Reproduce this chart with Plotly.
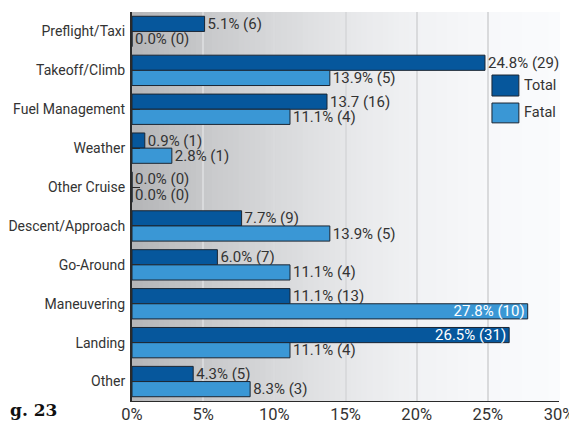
import plotly.graph_objects as go

# accident phases, top to bottom
phases = [
    "Preflight/Taxi", "Takeoff/Climb", "Fuel Management", "Weather", "Other Cruise",
    "Descent/Approach", "Go-Around", "Maneuvering", "Landing", "Other",
]
total_pct = [5.1, 24.8, 13.7, 0.9, 0.0, 7.7, 6.0, 11.1, 26.5, 4.3]
total_cnt = [6, 29, 16, 1, 0, 9, 7, 13, 31, 5]
fatal_pct = [0.0, 13.9, 11.1, 2.8, 0.0, 13.9, 11.1, 27.8, 11.1, 8.3]
fatal_cnt = [0, 5, 4, 1, 0, 5, 4, 10, 4, 3]
x_ticks = [0, 5, 10, 15, 20, 25, 30]

TOTAL_COL = "#06579c"
FATAL_COL = "#3a97d5"
EDGE = "#1b2633"
TXT = "#333333"
FONT = "Roboto"


def labels(pct, cnt):
    out = []
    for p, c in zip(pct, cnt):
        out.append(f"{p:.1f}% ({c})")
    return out


total_text = labels(total_pct, total_cnt)
total_text[2] = "13.7 (16)"  # the source label has no % here
fatal_text = labels(fatal_pct, fatal_cnt)

# long bars get their label inside
total_pos = ["inside" if p > 26 else "outside" for p in total_pct]
fatal_pos = ["inside" if p > 26 else "outside" for p in fatal_pct]

fig = go.Figure()

for name, vals, txt, pos, col in [
    ("Total", total_pct, total_text, total_pos, TOTAL_COL),
    ("Fatal", fatal_pct, fatal_text, fatal_pos, FATAL_COL),
]:
    fig.add_trace(
        go.Bar(
            y=phases,
            x=vals,
            orientation="h",
            name=name,
            text=txt,
            textposition=pos,
            insidetextanchor="end",
            outsidetextfont=dict(family=FONT, size=15, color=TXT),
            insidetextfont=dict(family=FONT, size=15, color="white"),
            constraintext="none",
            cliponaxis=False,
            marker=dict(color=col, line=dict(color=EDGE, width=1)),
            showlegend=False,
            hoverinfo="skip",
        )
    )

# grey-to-white background gradient drawn as thin strips
stops = [(0.0, 180), (1 / 6, 199), (2 / 6, 215), (0.5, 230), (4 / 6, 241), (5 / 6, 247), (1.0, 250)]


def shade(t):
    for (t0, v0), (t1, v1) in zip(stops[:-1], stops[1:]):
        if t0 <= t <= t1:
            return v0 + (v1 - v0) * (t - t0) / (t1 - t0)
    return stops[-1][1]


n_strips = 80
for i in range(n_strips):
    t = (i + 0.5) / n_strips
    v = int(round(shade(t)))
    fig.add_shape(
        type="rect",
        xref="x domain", yref="y domain",
        x0=i / n_strips, x1=(i + 1) / n_strips + 0.002, y0=0, y1=1,
        fillcolor=f"rgb({v},{min(v + 1, 255)},{min(v + 3, 255)})",
        line=dict(width=0),
        layer="below",
    )

# hand-drawn legend with big swatches
legend_items = [("Total", TOTAL_COL, 0.838, 0.784), ("Fatal", FATAL_COL, 0.766, 0.715)]
for name, col, ytop, ybot in legend_items:
    fig.add_shape(
        type="rect", xref="paper", yref="paper",
        x0=0.843, x1=0.906, y0=ybot, y1=ytop,
        fillcolor=col, line=dict(color=EDGE, width=1),
    )
    fig.add_annotation(
        xref="paper", yref="paper", x=0.914, y=(ytop + ybot) / 2,
        text=name, showarrow=False, xanchor="left", yanchor="middle",
        font=dict(family=FONT, size=14.5, color=TXT),
    )

# cropped figure caption at bottom-left
fig.add_annotation(
    xref="paper", yref="paper", x=-124 / 427, y=-0.022,
    text="<b>g. 23</b>", showarrow=False, xanchor="left", yanchor="middle",
    font=dict(family="DejaVu Serif", size=17, color="#111111"),
)

# page has an 8px body margin, so the figure is shrunk by that much
fig.update_layout(
    width=569,
    height=415,
    margin=dict(l=124, r=18, t=4, b=22, autoexpand=False),
    paper_bgcolor="white",
    plot_bgcolor="white",
    barmode="group",
    bargap=0.22,
    bargroupgap=0,
    font=dict(family=FONT, size=14, color=TXT),
)

fig.update_xaxes(
    range=[0, 30],
    tickvals=x_ticks,
    ticktext=[f"{v}%" for v in x_ticks],
    showgrid=True,
    gridcolor="#d9dadc",
    gridwidth=2,
    zeroline=False,
    showline=True,
    linecolor="#2a2a2a",
    linewidth=1,
    ticks="",
    ticklabelstandoff=-2,
    tickfont=dict(family=FONT, size=16.5, color=TXT),
    automargin=False,
    fixedrange=True,
)
fig.update_yaxes(
    autorange="reversed",
    showgrid=False,
    showline=True,
    linecolor="#2a2a2a",
    linewidth=2,
    ticks="inside",
    ticklen=8,
    tickcolor="#2a2a2a",
    tickwidth=1,
    ticklabelstandoff=2,
    tickfont=dict(family=FONT, size=14, color=TXT),
    automargin=False,
    fixedrange=True,
)

fig.write_html("out.html")
